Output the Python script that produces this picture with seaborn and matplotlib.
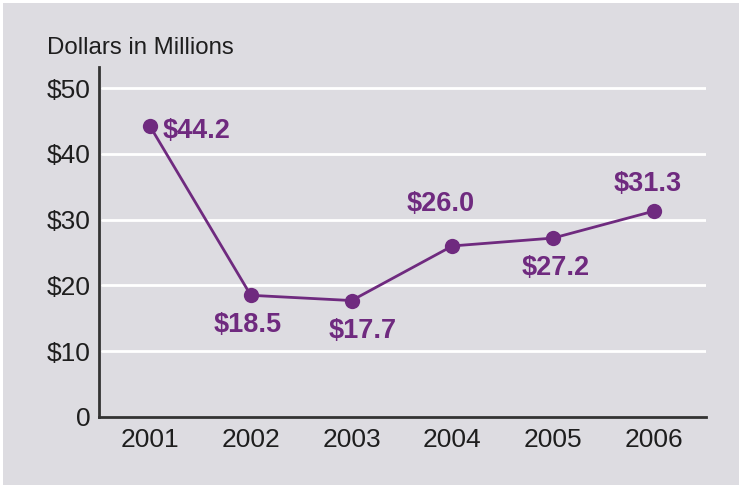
import matplotlib
matplotlib.use("Agg")
import matplotlib.pyplot as plt
from matplotlib.patches import Rectangle
import seaborn as sns
import pandas as pd

years = [2001, 2002, 2003, 2004, 2005, 2006]
values = [44.2, 18.5, 17.7, 26.0, 27.2, 31.3]
value_labels = ["$44.2", "$18.5", "$17.7", "$26.0", "$27.2", "$31.3"]
y_ticks = [0, 10, 20, 30, 40, 50]
y_tick_labels = ["0", "$10", "$20", "$30", "$40", "$50"]

# label placement (pixel offsets from each point, alignment)
label_offsets = [(13, -5), (-3, -30), (11, -30), (-12, 42), (2, -30), (-6, 27)]
label_ha = ["left", "center", "center", "center", "center", "center"]

PURPLE = "#6f2a7f"
BG = "#dddce1"
INK = "#1e1e1e"

sns.set_theme(style="white")
plt.rcParams["font.family"] = ["Liberation Sans", "DejaVu Sans"]

df = pd.DataFrame({"year": years, "value": values})

fig = plt.figure(figsize=(7.42, 4.88), dpi=100, facecolor="white")
W, H = 742, 488
fig.patches.append(Rectangle((3 / W, 3 / H), (739 - 3) / W, (485 - 3) / H,
                             transform=fig.transFigure, facecolor=BG,
                             edgecolor="none", zorder=-5))

ax_l, ax_r = 99, 706
ax_t, ax_b = 67, 417
ax = fig.add_axes([ax_l / W, 1 - ax_b / H, (ax_r - ax_l) / W, (ax_b - ax_t) / H])
ax.set_facecolor("none")

for t in y_ticks[1:]:
    ax.axhline(t, color="white", lw=2, zorder=1, xmin=0.005)

sns.lineplot(data=df, x="year", y="value", ax=ax, color=PURPLE, lw=2,
             marker="o", markersize=11, markeredgewidth=0, zorder=3)

for x, y, lab, off, ha in zip(years, values, value_labels, label_offsets, label_ha):
    ax.annotate(lab, (x, y), xytext=off, textcoords="offset pixels",
                ha=ha, va="center", color=PURPLE, fontsize=19.5,
                fontweight="bold", zorder=4)

ax.set_xlim(2000.494, 2006.516)
ax.set_ylim(0, 53.2)
ax.set_xticks(years)
ax.set_xticklabels([str(y) for y in years], fontsize=19, color=INK)
ax.set_yticks(y_ticks)
ax.set_yticklabels(y_tick_labels, fontsize=19, color=INK)
ax.tick_params(axis="x", direction="in", length=8, width=2, color="#333333", pad=8)
ax.tick_params(axis="y", length=0, pad=6)
ax.set_xlabel("")
ax.set_ylabel("")

for s in ["top", "right"]:
    ax.spines[s].set_visible(False)
for s in ["left", "bottom"]:
    ax.spines[s].set_color("#333333")
    ax.spines[s].set_linewidth(2)

fig.text(47 / W, 1 - 48 / H, "Dollars in Millions", ha="left", va="center",
         fontsize=17.3, color=INK)

fig.savefig("out.png", dpi=100, facecolor="white")
